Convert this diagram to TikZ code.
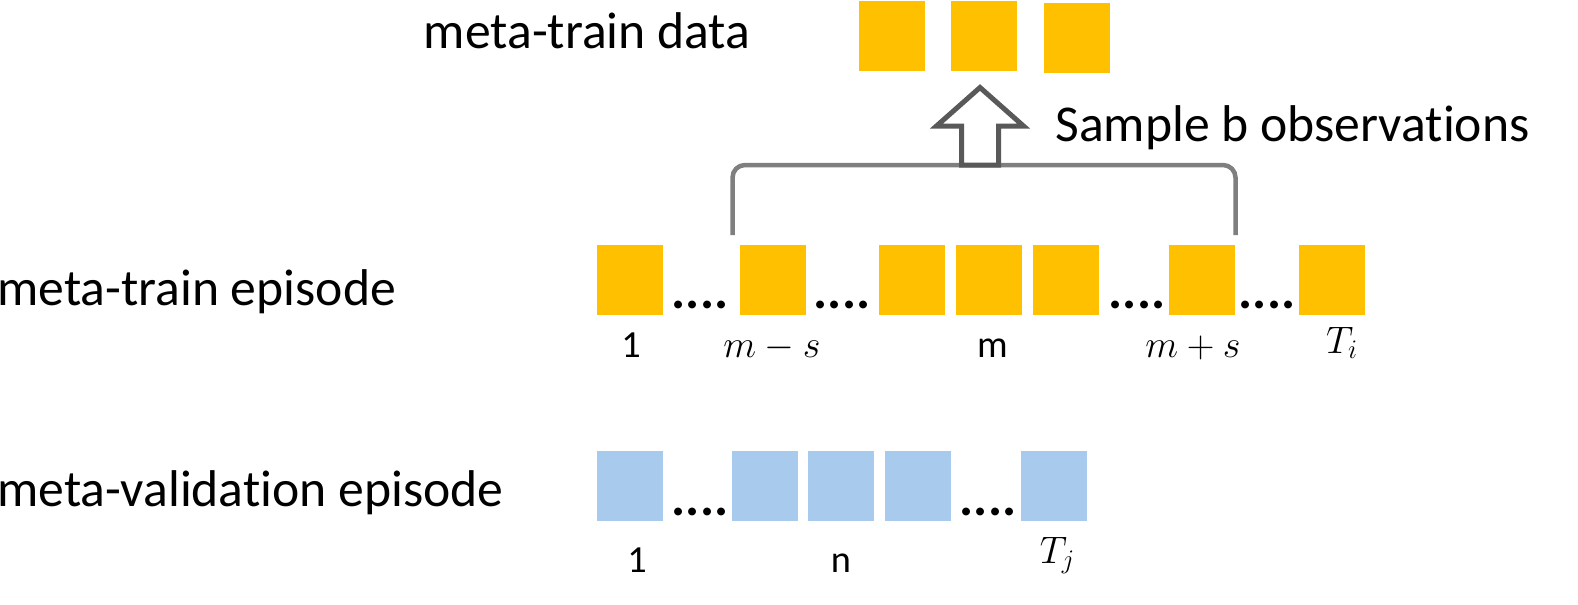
\RequirePackage{fix-cm}
\documentclass[tikz,border=0pt]{standalone}
\usepackage[no-math]{fontspec}
\setmainfont[Ligatures={NoCommon,NoContextual}]{Carlito}
\usepackage{tikz}
\usetikzlibrary{calc}
\definecolor{gold}{HTML}{FFC000}
\definecolor{paleblue}{HTML}{A8CAEC}
\definecolor{bracegray}{HTML}{7F7F7F}
\definecolor{arrowgray}{HTML}{595959}
\tikzset{
	obs/.style={minimum width=1.32cm, minimum height=1.4cm, inner sep=0pt},
	trainobs/.style={obs, fill=gold},
	valobs/.style={obs, fill=paleblue},
	title/.style={anchor=base west, inner sep=0pt, font=\fontsize{29.4}{35}\selectfont},
	idx/.style={anchor=base, inner sep=0pt, font=\fontsize{21.8}{26}\selectfont},
	etc/.style={anchor=base, inner sep=0pt, font=\fontsize{30}{36}\selectfont\bfseries}
}

\begin{document}
\begin{tikzpicture}
	%%%%% START %%%%%
	
	\useasboundingbox (0, 0) rectangle (31.56, 12.08);
	
	\node[title] (datatxt) at (8.47, 11.11) {meta-train data};
	\node[trainobs] (d1) at (17.83, 11.36) {};
	\node[trainobs] (d2) at (19.68, 11.36) {};
	\node[trainobs] (d3) at (21.54, 11.33) {};
	
	\node[title] (sampletxt) at (21.1, 9.25) {Sample b observations};
	
	\coordinate (brl) at (14.65, 7.38);
	\coordinate (brr) at (24.71, 7.38);
	\coordinate (foot) at (19.6, 8.78);
	\draw[bracegray, line width=0.09cm, rounded corners=0.25cm] (brl) -- (brl |- foot) -- (brr |- foot) -- (brr);
	\draw[arrowgray, fill=white, line width=0.1cm] ($(foot)+(-0.37, 0)$) -- ($(foot)+(-0.37, 0.78)$) -- ($(foot)+(-0.87, 0.78)$) -- ($(foot)+(0, 1.55)$) -- ($(foot)+(0.87, 0.78)$) -- ($(foot)+(0.37, 0.78)$) -- ($(foot)+(0.37, 0)$) -- cycle;
	
	\node[title] (traintxt) at (-0.06, 5.98) {meta-train episode};
	\node[trainobs] (t1) at (12.59, 6.48) {};
	\node[etc] (tdots1) at (14.0, 5.92) {....};
	\node[trainobs] (t2) at (15.45, 6.48) {};
	\node[etc] (tdots2) at (16.84, 5.92) {....};
	\node[trainobs] (t3) at (18.24, 6.48) {};
	\node[trainobs] (t4) at (19.78, 6.48) {};
	\node[trainobs] (t5) at (21.31, 6.48) {};
	\node[etc] (tdots3) at (22.74, 5.92) {....};
	\node[trainobs] (t6) at (24.04, 6.48) {};
	\node[etc] (tdots4) at (25.34, 5.92) {....};
	\node[trainobs] (t7) at (26.64, 6.48) {};
	
	\node[idx] (tl1) at (12.62, 4.94) {1};
	\node[idx] (tl2) at (15.44, 4.94) {$m-s$};
	\node[idx] (tl3) at (19.85, 4.94) {m};
	\node[idx] (tl4) at (23.86, 4.94) {$m+s$};
	\node[idx] (tl5) at (26.84, 5.02) {$T_i$};
	
	\node[title] (valtxt) at (-0.06, 1.95) {meta-validation episode};
	\node[valobs] (v1) at (12.59, 2.36) {};
	\node[etc] (vdots1) at (14.0, 1.78) {....};
	\node[valobs] (v2) at (15.29, 2.36) {};
	\node[valobs] (v3) at (16.82, 2.36) {};
	\node[valobs] (v4) at (18.36, 2.36) {};
	\node[etc] (vdots2) at (19.76, 1.78) {....};
	\node[valobs] (v5) at (21.08, 2.36) {};
	
	\node[idx] (vl1) at (12.74, 0.64) {1};
	\node[idx] (vl2) at (16.82, 0.64) {n};
	\node[idx] (vl3) at (21.15, 0.82) {$T_j$};
	
	%%%%% END %%%%%
\end{tikzpicture}
\end{document}
